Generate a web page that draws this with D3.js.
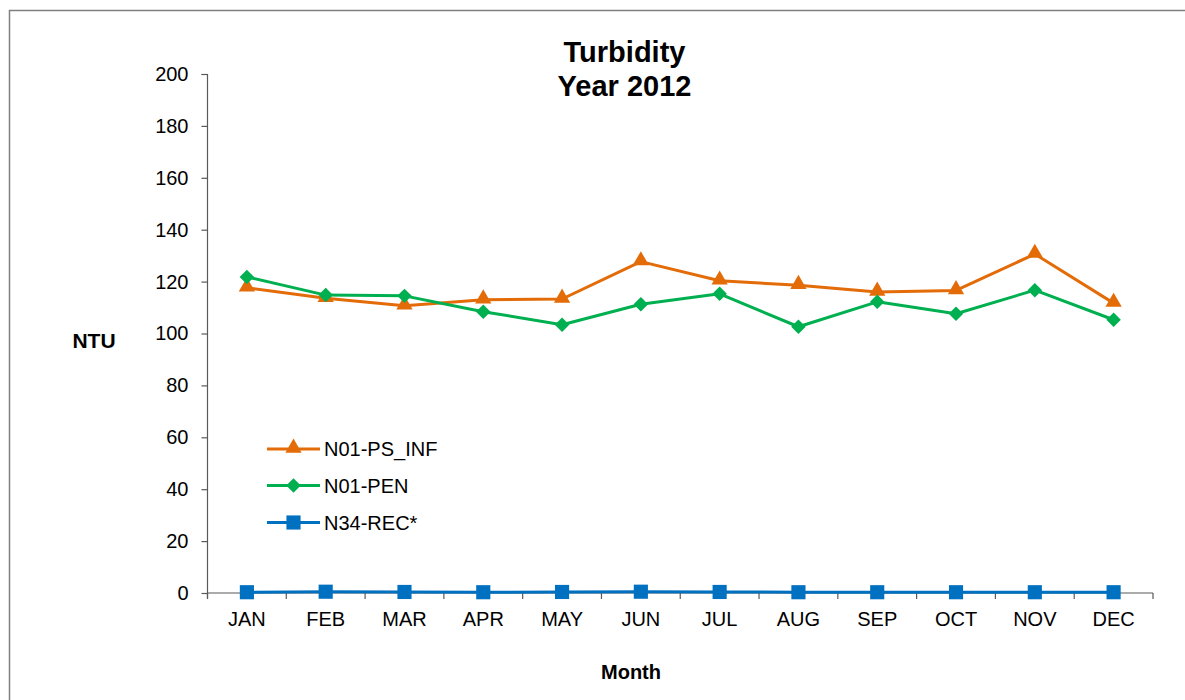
<!DOCTYPE html>
<html>
<head>
<meta charset="utf-8">
<script src="https://cdn.jsdelivr.net/npm/d3@7"></script>
<style>
  html, body { margin: 0; padding: 0; background: #fff; }
  svg { display: block; font-family: "Liberation Sans", Arial, sans-serif; }
</style>
</head>
<body>
<svg id="chart" width="1185" height="700"></svg>
<script>
const months = ["JAN","FEB","MAR","APR","MAY","JUN","JUL","AUG","SEP","OCT","NOV","DEC"];
const psInf = [117.6, 113.6, 110.7, 113.0, 113.3, 127.7, 120.3, 118.6, 116.0, 116.6, 130.6, 111.7];
const pen   = [121.8, 114.8, 114.5, 108.4, 103.4, 111.3, 115.3, 102.6, 112.2, 107.6, 116.7, 105.3];
const rec   = [0.3, 0.5, 0.4, 0.3, 0.4, 0.5, 0.4, 0.3, 0.3, 0.3, 0.3, 0.3];
const yTicks = [0, 20, 40, 60, 80, 100, 120, 140, 160, 180, 200];

const series = [
  { name: "N01-PS_INF", values: psInf, color: "#E36C09", symbol: d3.symbolTriangle, size: 115, rot: 0, dy: -1 },
  { name: "N01-PEN",    values: pen,   color: "#00B050", symbol: d3.symbolSquare,   size: 105, rot: 45, dy: 0 },
  { name: "N34-REC*",   values: rec,   color: "#0070C0", symbol: d3.symbolSquare,   size: 200, rot: 0, dy: 0 }
];

const svg = d3.select("#chart");
const pLeft = 207.5, pRight = 1153, pTop = 74, pBottom = 593;
const axisColor = "#595959";

// outer frame
svg.append("path")
  .attr("d", "M9.5,710 V10.5 H1200")
  .attr("fill", "none").attr("stroke", "#7f7f7f").attr("stroke-width", 1.5);

const x = d3.scaleBand().domain(months).range([pLeft, pRight]).padding(0);
const y = d3.scaleLinear().domain([0, 200]).range([pBottom, pTop]);

// Y axis
const yAxis = svg.append("g").attr("transform", `translate(${pLeft},0)`)
  .call(d3.axisLeft(y).tickValues(yTicks).tickSize(6).tickPadding(13));
yAxis.select(".domain").attr("stroke", axisColor).attr("stroke-width", 1.2)
  .attr("d", `M-6,${pTop}.5H0V${pBottom + 6}`);
yAxis.selectAll(".tick line").attr("stroke", axisColor).attr("stroke-width", 1.2);
yAxis.selectAll(".tick text").attr("font-size", 20).attr("fill", "#000")
  .attr("font-family", "Liberation Sans, Arial, sans-serif");

// X axis
const xAxis = svg.append("g").attr("transform", `translate(0,${pBottom})`)
  .call(d3.axisBottom(x).tickSize(0).tickPadding(19));
xAxis.select(".domain").attr("stroke", axisColor).attr("stroke-width", 1.2)
  .attr("d", `M${pLeft},0H${pRight}`);
xAxis.selectAll(".tick text").attr("font-size", 20).attr("fill", "#000")
  .attr("font-family", "Liberation Sans, Arial, sans-serif");
// tick marks between categories
const boundaries = months.map(m => x(m)).concat([x(months[months.length - 1]) + x.bandwidth()]);
xAxis.selectAll("line.bound").data(boundaries).enter().append("line")
  .attr("class", "bound")
  .attr("x1", d => d).attr("x2", d => d).attr("y1", 0).attr("y2", 6)
  .attr("stroke", axisColor).attr("stroke-width", 1.2);

const cx = m => x(m) + x.bandwidth() / 2;

// lines and markers
series.forEach(s => {
  const line = d3.line().x((d, i) => cx(months[i])).y(d => y(d));
  svg.append("path").datum(s.values)
    .attr("d", line).attr("fill", "none")
    .attr("stroke", s.color).attr("stroke-width", 3).attr("stroke-linejoin", "round");
  svg.selectAll(null).data(s.values).enter().append("path")
    .attr("d", d3.symbol().type(s.symbol).size(s.size))
    .attr("transform", (d, i) => `translate(${cx(months[i])},${y(d) + s.dy}) rotate(${s.rot})`)
    .attr("fill", s.color);
});

// legend
const legY = [449, 485.5, 522.5];
series.forEach((s, i) => {
  const g = svg.append("g").attr("transform", `translate(267,${legY[i]})`);
  g.append("line").attr("x1", 0).attr("x2", 53).attr("y1", 0).attr("y2", 0)
    .attr("stroke", s.color).attr("stroke-width", 3);
  g.append("path").attr("d", d3.symbol().type(s.symbol).size(s.size))
    .attr("transform", `translate(26.5,${s.dy}) rotate(${s.rot})`)
    .attr("fill", s.color);
  g.append("text").attr("x", 57).attr("y", 0).attr("dy", "0.35em")
    .attr("font-size", 20).attr("fill", "#000").text(s.name);
});

// titles
svg.append("text").attr("x", 624.5).attr("y", 62).attr("text-anchor", "middle")
  .attr("font-size", 29).attr("font-weight", "bold").text("Turbidity");
svg.append("text").attr("x", 624.5).attr("y", 96).attr("text-anchor", "middle")
  .attr("font-size", 29).attr("font-weight", "bold").text("Year 2012");
svg.append("text").attr("x", 94).attr("y", 348).attr("text-anchor", "middle")
  .attr("font-size", 21).attr("font-weight", "bold").text("NTU");
svg.append("text").attr("x", 631).attr("y", 679).attr("text-anchor", "middle")
  .attr("font-size", 20).attr("font-weight", "bold").text("Month");
</script>
</body>
</html>
